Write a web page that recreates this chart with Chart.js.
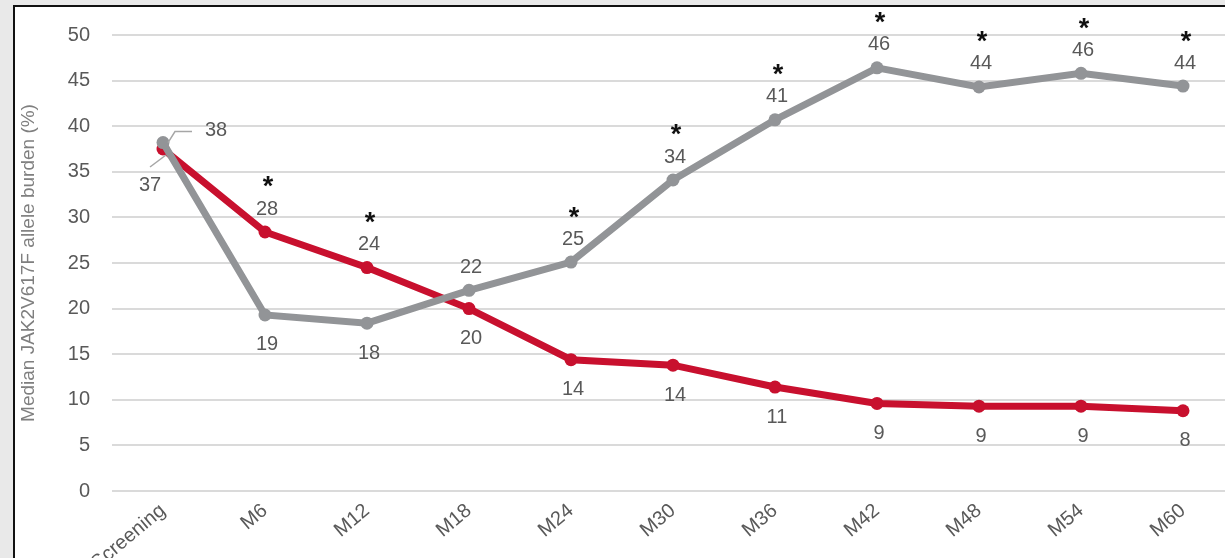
<!DOCTYPE html>
<html>
<head>
<meta charset="utf-8">
<script src="https://cdn.jsdelivr.net/npm/chart.js@4.4.1/dist/chart.umd.min.js"></script>
<style>
    html, body { margin: 0; padding: 0; overflow: hidden; background: #e9e9e9; width: 1225px; height: 558px; }
    #panel { position: absolute; left: 13px; top: 5px; width: 1300px; height: 600px; background: #fff;
             border-left: 2px solid #111; border-top: 2px solid #111; }
    #wrap { position: absolute; left: 0; top: 0; width: 1250px; height: 600px; }
</style>
</head>
<body>
<div id="panel"></div>
<div id="wrap"><canvas id="burdenChart" width="1250" height="600"></canvas></div>
<script>
// categories and series
const categories = ['Screening', 'M6', 'M12', 'M18', 'M24', 'M30', 'M36', 'M42', 'M48', 'M54', 'M60'];
const greyValues = [38.2, 19.3, 18.4, 22.0, 25.1, 34.1, 40.7, 46.4, 44.3, 45.8, 44.4];
const redValues = [37.5, 28.4, 24.5, 20.0, 14.4, 13.8, 11.4, 9.6, 9.3, 9.3, 8.8];
const greyLabels = ['38', '19', '18', '22', '25', '34', '41', '46', '44', '46', '44'];
const redLabels = ['37', '28', '24', '20', '14', '14', '11', '9', '9', '9', '8'];
// where the label sits relative to its point
const greyLabelPos = ['leader-up', 'below', 'below', 'above', 'above', 'above', 'above', 'above', 'above', 'above', 'above'];
const redLabelPos = ['leader-down', 'above', 'above', 'below', 'below', 'below', 'below', 'below', 'below', 'below', 'below'];
// significance stars, drawn above the upper label
const stars = ['', '*', '*', '', '*', '*', '*', '*', '*', '*', '*'];
const yTicks = [0, 5, 10, 15, 20, 25, 30, 35, 40, 45, 50];

const RED = '#c8102e';
const GREY = '#929497';
const TEXT = '#595959';
const FONT = "'Liberation Sans', Arial, sans-serif";

const labelPlugin = {
    id: 'pointLabels',
    afterDatasetsDraw(chart) {
        const ctx = chart.ctx;
        const x = chart.scales.x;
        const y = chart.scales.y;
        ctx.save();
        ctx.textAlign = 'center';
        ctx.textBaseline = 'middle';
        ctx.font = '20px ' + FONT;
        ctx.fillStyle = TEXT;

        function drawSeries(values, labels, positions) {
            values.forEach((v, i) => {
                const px = x.getPixelForValue(i);
                const py = y.getPixelForValue(v);
                const pos = positions[i];
                ctx.strokeStyle = '#a6a6a6';
                ctx.lineWidth = 1.5;
                if (pos === 'above') {
                    ctx.fillText(labels[i], px + 2, py - 23);
                } else if (pos === 'below') {
                    ctx.fillText(labels[i], px + 2, py + 30);
                } else if (pos === 'leader-up') {
                    ctx.beginPath();
                    ctx.moveTo(px + 5, py);
                    ctx.lineTo(px + 12, py - 11);
                    ctx.lineTo(px + 29, py - 11);
                    ctx.stroke();
                    ctx.fillText(labels[i], px + 53, py - 12);
                } else if (pos === 'leader-down') {
                    ctx.beginPath();
                    ctx.moveTo(px + 3, py + 6);
                    ctx.lineTo(px - 13, py + 18);
                    ctx.stroke();
                    ctx.fillText(labels[i], px - 13, py + 36);
                }
            });
        }
        drawSeries(greyValues, greyLabels, greyLabelPos);
        drawSeries(redValues, redLabels, redLabelPos);

        ctx.fillStyle = '#111';
        ctx.font = 'bold 27px ' + FONT;
        stars.forEach((s, i) => {
            if (!s) return;
            const top = Math.max(greyValues[i], redValues[i]);
            ctx.fillText(s, x.getPixelForValue(i) + 3, y.getPixelForValue(top) - 44);
        });
        ctx.restore();
    }
};

const ctx = document.getElementById('burdenChart').getContext('2d');
new Chart(ctx, {
    type: 'line',
    data: {
        labels: categories,
        datasets: [{
            label: 'Grey arm',
            data: greyValues,
            borderColor: GREY,
            backgroundColor: GREY,
            borderWidth: 7,
            pointRadius: 6.5,
            pointHoverRadius: 6.5,
            pointBorderWidth: 0,
            tension: 0
        }, {
            label: 'Red arm',
            data: redValues,
            borderColor: RED,
            backgroundColor: RED,
            borderWidth: 7,
            pointRadius: 6.5,
            pointHoverRadius: 6.5,
            pointBorderWidth: 0,
            tension: 0
        }]
    },
    options: {
        responsive: false,
        animation: false,
        events: [],
        layout: { padding: { left: 14, top: 35, right: 16, bottom: 0 } },
        plugins: { legend: { display: false }, tooltip: { enabled: false } },
        scales: {
            x: {
                offset: true,
                grid: { display: false, drawTicks: false },
                border: { display: false },
                ticks: {
                    color: TEXT,
                    font: { family: FONT, size: 20 },
                    minRotation: 40,
                    maxRotation: 40,
                    padding: 8
                },
                afterFit(scale) { scale.height = 109; }
            },
            y: {
                min: 0,
                max: 50,
                afterBuildTicks(scale) { scale.ticks = yTicks.map(v => ({ value: v })); },
                grid: { color: '#dadada', lineWidth: 2, drawTicks: false },
                border: { display: false },
                ticks: {
                    color: TEXT,
                    font: { family: FONT, size: 20 },
                    padding: 22
                },
                title: {
                    display: true,
                    text: 'Median JAK2V617F allele burden (%)',
                    color: '#7f7f7f',
                    font: { family: FONT, size: 19 },
                    padding: { top: 3, bottom: 0 }
                },
                afterFit(scale) { scale.width = 98; }
            }
        }
    },
    plugins: [labelPlugin]
});
</script>
</body>
</html>
